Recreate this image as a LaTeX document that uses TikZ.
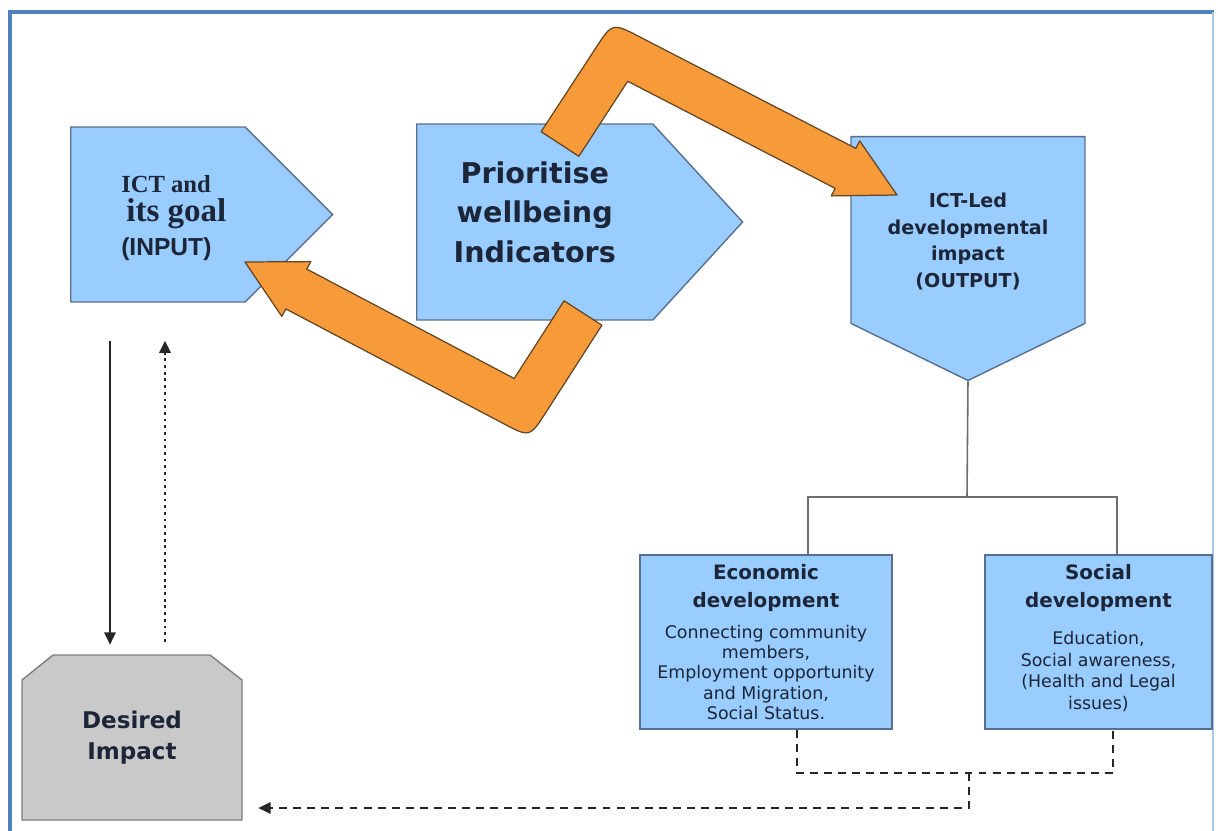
\documentclass[tikz,border=0pt]{standalone}
\usepackage{fontspec}
\usepackage{tikz}
\usetikzlibrary{
    arrows.meta,
    shapes.symbols,
    calc,
    positioning,
}
\newfontfamily\djsans{DejaVu Sans}
\newfontfamily\libserif{Liberation Serif}
\newfontfamily\libsans{Liberation Sans}

\definecolor{boxBlue}{RGB}{153,204,255}
\definecolor{boxEdge}{RGB}{88,112,142}
\definecolor{inkDark}{RGB}{28,38,56}
\definecolor{arrowOrange}{RGB}{247,154,58}
\definecolor{arrowEdge}{RGB}{96,70,36}
\definecolor{impactGray}{RGB}{201,201,201}
\definecolor{impactEdge}{RGB}{125,125,125}
\definecolor{frameBlue}{RGB}{79,129,189}
\definecolor{frameLight}{RGB}{170,200,230}
\definecolor{treeGray}{RGB}{110,110,110}

% fonts of the development boxes
\newcommand{\devhead}{\djsans\bfseries\fontsize{11.3}{15.9}\selectfont}

\begin{document}
\begin{tikzpicture}[x=0.02cm,y=-0.02cm,>={Triangle[length=7pt,width=6.5pt]}]

    \tikzstyle{commonNode}=[draw=boxEdge, line width=0.8pt, fill=boxBlue, text=inkDark, align=center, inner sep=0pt]
    \tikzstyle{signalBox}=[commonNode, shape=signal, signal from=nowhere]
    \tikzstyle{devBox}=[commonNode, rectangle, minimum height=3.48cm]
    \tikzstyle{impactShape}=[fill=impactGray, draw=impactEdge, line width=0.8pt, line join=round]
    \tikzstyle{impactText}=[rectangle, text=inkDark, align=center, inner sep=0pt]
    \tikzstyle{bigArrow}=[fill=arrowOrange, draw=arrowEdge, line width=0.7pt, line join=round]
    \tikzstyle{treeLine}=[draw=treeGray, line width=0.9pt]
    \tikzstyle{dashLine}=[draw=black!85, line width=1.1pt, dash pattern=on 4.5pt off 3.5pt]
    \tikzstyle{flow}=[draw=black!85, line width=0.9pt, ->]
    \tikzstyle{dotFlow}=[draw=black!85, line width=1.2pt, dash pattern=on 1.6pt off 2.2pt, ->]

    \useasboundingbox (0,0) rectangle (1218,831);
    \fill[white] (0,0) rectangle (1218,831);

    % Frame
    \draw[frameBlue, line width=2.3pt] (10,831) -- (10,12) -- (1214,12);
    \draw[frameLight, line width=0.6pt] (1213,12) -- (1213,831);

    % Input, priorities and output
    \node[signalBox, signal to=east, signal pointer angle=90, minimum width=5.24cm, minimum height=3.5cm, anchor=west,
        align=left, font=\fontsize{14}{15.3}\selectfont] (input) at (70,214.5)
        {\mbox{}\\[-1.8pt]
         \hspace*{18.1pt}{\libserif\bfseries\fontsize{14}{15.3}\selectfont ICT and}\\[1.5pt]
         \hspace*{21pt}{\libserif\bfseries\fontsize{18.8}{15.3}\selectfont its goal}\\[4pt]
         \hspace*{18.1pt}{\libsans\bfseries\fontsize{14}{15.3}\selectfont (INPUT)}};
    \node[signalBox, signal to=east, signal pointer angle=95, minimum width=6.52cm, minimum height=3.92cm, anchor=west,
        font=\djsans\bfseries\fontsize{16.3}{22.7}\selectfont] (prior) at (416,222)
        {Prioritise\\wellbeing\\Indicators\\[-11.4pt]\mbox{}};
    \node[signalBox, signal to=south, signal pointer angle=128, minimum width=4.68cm, minimum height=4.52cm, anchor=north,
        font=\djsans\bfseries\fontsize{10.9}{15.3}\selectfont] (output) at (968,136)
        {\mbox{}\\[6pt]ICT-Led\\developmental\\impact\\(OUTPUT)};

    % Development areas
    \node[devBox, minimum width=5.04cm, font=\djsans\fontsize{9.9}{11.6}\selectfont] (eco) at (766,642)
        {{\devhead Economic}\\[4.3pt]
         {\devhead development}\\[6pt]
         Connecting community\\members,\\Employment opportunity\\and Migration,\\Social Status.};
    \node[devBox, minimum width=4.54cm, font=\djsans\fontsize{9.9}{12.3}\selectfont] (soc) at (1098.5,642)
        {{\devhead Social}\\[3.6pt]
         {\devhead development}\\[8.7pt]
         Education,\\Social awareness,\\(Health and Legal\\issues)\\[-6.6pt]\mbox{}};

    % Desired impact, top corners cut
    \path[impactShape] (22,820) -- (22,680) -- (53,655) -- (210,655) -- (242,680) -- (242,820) -- cycle;
    \node[impactText, minimum width=4.4cm, minimum height=3.3cm, font=\djsans\bfseries\fontsize{13.1}{17.6}\selectfont] (desired) at (132,737.5)
        {Desired\\Impact};

    % Tree from output
    \coordinate (split) at (967,497);
    \draw[treeLine] (output.south) -- (split);
    \draw[treeLine] (split) -| ([xshift=0.84cm]eco.north);
    \draw[treeLine] (split) -| ([xshift=0.37cm]soc.north);

    % Feedback to desired impact
    \coordinate (join) at (969,773);
    \coordinate (back) at (0,808);
    \draw[dashLine] ([xshift=0.62cm]eco.south) |- (join) -| ([xshift=0.29cm]soc.south);
    \draw[dashLine, ->, shorten >=0.32cm] (join) |- (desired.east |- back);

    % Input <-> desired impact
    \draw[flow, shorten <=0.76cm, shorten >=0.2cm] (input.south -| 110,0) -- (desired.north -| 110,0);
    \draw[dotFlow, shorten <=0.26cm, shorten >=0.76cm] (desired.north -| 165,0) -- (input.south -| 165,0);

    % Bent block arrows
    \draw[bigArrow] (541.1,131.7) -- (595.9,47.8) .. controls (612.3,22.7) .. (639.0,36.5)
        -- (855.8,148.4) -- (859.7,140.9) -- (897,195) -- (831.3,195.9) -- (835.2,188.4)
        -- (627.7,81.3) -- (578.9,156.3) -- cycle;
    \draw[bigArrow] (601.9,325.2) -- (546.0,412.3) .. controls (529.8,437.5) .. (503.3,423.5)
        -- (285.8,308.9) -- (281.8,316.4) -- (245,262) -- (310.8,261.6) -- (306.8,269.1)
        -- (514.2,378.5) -- (564.1,300.8) -- cycle;

\end{tikzpicture}
\end{document}
